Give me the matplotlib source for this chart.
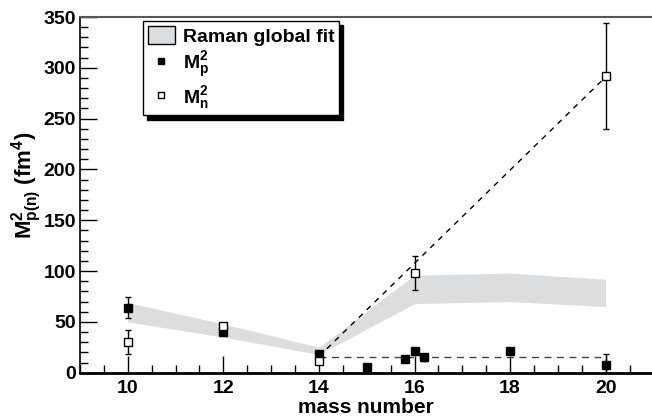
import numpy as np
import matplotlib
matplotlib.use("Agg")
import matplotlib.pyplot as plt
from matplotlib.patches import Patch
from matplotlib.lines import Line2D

plt.rcParams['font.family'] = ['Liberation Sans', 'DejaVu Sans']
plt.rcParams['font.weight'] = 'bold'
plt.rcParams['mathtext.fontset'] = 'custom'
plt.rcParams['mathtext.rm'] = 'Liberation Sans:bold'
plt.rcParams['mathtext.bf'] = 'Liberation Sans:bold'
plt.rcParams['mathtext.it'] = 'Liberation Sans:bold'
plt.rcParams['mathtext.default'] = 'bf'

# Raman global fit band
band_x = [10, 12, 14, 16, 18, 20]
band_lo = [50, 35, 18, 68, 70, 65]
band_hi = [69, 48, 25, 96, 98, 92]

# M_p^2 (filled squares)
mp_x = [10, 12, 14, 15, 15.8, 16, 16.2, 18, 20]
mp_y = [64, 40, 18, 6, 13, 21, 15, 21.5, 8]
mp_err = [10, 0, 0, 0, 0, 0, 3, 0, 10]

# M_n^2 (open squares)
mn_x = [10, 12, 14, 16, 20]
mn_y = [30, 46, 12, 98, 292]
mn_err = [12, 0, 0, 16.5, 52]

# dashed guide lines
diag_x = [14, 20]
diag_y = [16, 291]
flat_x = [14, 20]
flat_y = [15, 15]

fig = plt.figure(figsize=(6.52, 4.19), dpi=100)
ax = fig.add_axes([80 / 652, 0.1105, 572 / 652, 0.8489])

ax.fill_between(band_x, band_lo, band_hi, color='#dcdddf', lw=0, zorder=1)
ax.plot(flat_x, flat_y, ls=(0, (5, 4)), color='#444444', lw=1, zorder=2)
ax.plot(diag_x, diag_y, ls=(0, (4, 4)), color='black', lw=1, zorder=2)

ax.errorbar(mp_x, mp_y, yerr=mp_err, fmt='s', color='black', ms=5.5,
            elinewidth=1, capsize=2.5, capthick=1, zorder=4)
ax.errorbar(mn_x, mn_y, yerr=mn_err, fmt='s', color='black', mfc='white',
            mec='black', mew=1, ms=5.5, elinewidth=1, capsize=2.5,
            capthick=1, zorder=4)

ax.set_xlim(9, 20.97)
ax.set_ylim(0, 350)
ax.set_xticks([10, 12, 14, 16, 18, 20])
ax.set_xticks(np.arange(9, 21, 0.5), minor=True)
ax.set_yticks(np.arange(0, 351, 50))
ax.set_yticks(np.arange(0, 351, 10), minor=True)
ax.tick_params(which='both', direction='in', labelsize=14, width=1, color='black')
ax.tick_params(axis='y', which='major', length=12, pad=3)
ax.tick_params(axis='y', which='minor', length=6)
ax.tick_params(axis='x', which='major', length=12, pad=5)
ax.tick_params(axis='x', which='minor', length=6)

ax.spines['right'].set_visible(False)
ax.spines['top'].set_color('#555555')
ax.spines['top'].set_linewidth(1.5)
ax.spines['left'].set_linewidth(1.2)
ax.spines['bottom'].set_linewidth(2)

ax.set_xlabel('mass number', fontsize=15, fontweight='bold', labelpad=1)
ax.set_ylabel(r'$M^2_{p(n)}$ (fm$^4$)', fontsize=16, fontweight='bold')
ax.yaxis.set_label_coords(-0.063, 0.528)

handles = [
    Patch(facecolor='#dcdddf', edgecolor='black', lw=1),
    Line2D([], [], marker='s', ls='none', color='black', ms=5),
    Line2D([], [], marker='s', ls='none', mfc='white', mec='black', mew=1, ms=5),
]
labels = ['Raman global fit', r'$M^2_p$', r'$M^2_n$']
leg = ax.legend(handles, labels, loc='upper left', bbox_to_anchor=(0.11, 0.989),
                borderaxespad=0, fontsize=14, fancybox=False, framealpha=1,
                edgecolor='black', handlelength=1.4, handleheight=1.1,
                labelspacing=0.2, borderpad=0.25, handletextpad=0.4,
                shadow={'color': 'black', 'alpha': 1, 'ox': 3, 'oy': -3})
leg.get_frame().set_linewidth(1)
for t in leg.get_texts():
    t.set_fontweight('bold')

fig.savefig('out.png', dpi=100)
